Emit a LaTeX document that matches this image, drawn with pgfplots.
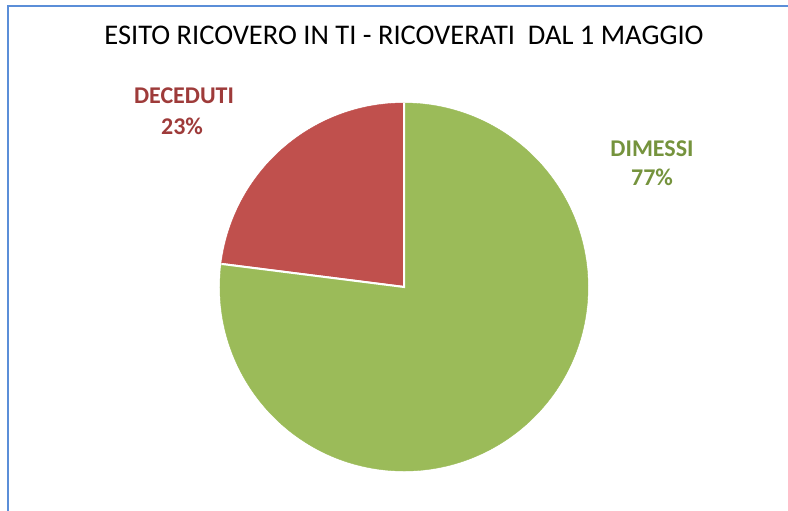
\documentclass[border=0pt]{standalone}
\usepackage{fontspec}
\setmainfont{Carlito}
\usepackage{pgfplots}
\usepackage{pgfplotstable}
\pgfplotsset{compat=1.18}
\definecolor{pieRed}{HTML}{C0504D}
\definecolor{pieGreen}{HTML}{9BBB59}
\definecolor{lblRed}{HTML}{9E3B3A}
\definecolor{lblGreen}{HTML}{75933D}
\definecolor{frameBlue}{HTML}{5B8ED8}

\pgfplotstableread{
label cx cy start value
DECEDUTI 404 287 0 23
DIMESSI 404 287 23 77
}\piedata

\pgfplotsset{
 pieslice/.style={
   scatter, only marks, mark=*, mark size=0pt,
   visualization depends on={\thisrow{start}\as\pstart},
   visualization depends on={\thisrow{value}\as\pvalue},
   scatter/@pre marker code/.code={%
     \pgfmathsetmacro\aA{90+3.6*\pstart}%
     \pgfmathsetmacro\aB{90+3.6*(\pstart+\pvalue)}%
     \fill[#1] (0,0) -- (\aA:184bp) arc[start angle=\aA, end angle=\aB, radius=184bp] -- cycle;
     \draw[white, line width=2bp] (\aA:184bp) -- (0,0) -- (\aB:184bp);
   },
   scatter/@post marker code/.code={},
 }
}

\begin{document}
\begin{tikzpicture}
\begin{axis}[
  scale only axis, width=788bp, height=511bp,
  xmin=0, xmax=788, ymin=0, ymax=511, y dir=reverse,
  hide axis, clip=false]
\path (axis cs:0,0) (axis cs:788,511);
\addplot[pieslice=pieRed, skip coords between index={1}{2}] table[x=cx, y=cy] {\piedata};
\addplot[pieslice=pieGreen, skip coords between index={0}{1}] table[x=cx, y=cy] {\piedata};
\draw[frameBlue, line width=2bp] (axis cs:8,515) -- (axis cs:8,6) -- (axis cs:795,6);
\node[anchor=base, font=\fontsize{28.5bp}{30bp}\selectfont] at (axis cs:404,45) {ESITO RICOVERO IN TI - RICOVERATI\ \ DAL 1 MAGGIO};
\node[anchor=base, text=lblRed, font=\fontsize{24bp}{28bp}\selectfont\bfseries] at (axis cs:184,103) {DECEDUTI};
\node[anchor=base, text=lblRed, font=\fontsize{24bp}{28bp}\selectfont\bfseries] at (axis cs:182,134) {23\%};
\node[anchor=base, text=lblGreen, font=\fontsize{24bp}{28bp}\selectfont\bfseries] at (axis cs:652,156) {DIMESSI};
\node[anchor=base, text=lblGreen, font=\fontsize{24bp}{28bp}\selectfont\bfseries] at (axis cs:652,185) {77\%};
\end{axis}
\pgfresetboundingbox
\useasboundingbox (current axis.south west) rectangle (current axis.north east);
\end{tikzpicture}
\end{document}
